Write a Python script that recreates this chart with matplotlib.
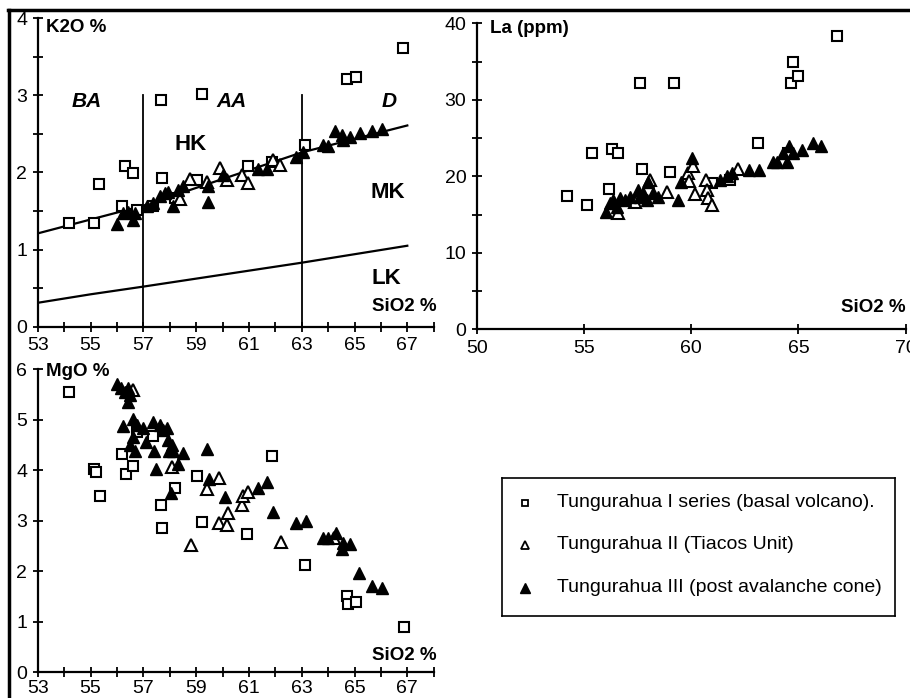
import matplotlib
matplotlib.use("Agg")
import matplotlib.pyplot as plt
from matplotlib.lines import Line2D

plt.rcParams['font.family'] = ['Liberation Sans', 'DejaVu Sans']

# ---- K2O vs SiO2 ----
k2o_sq_si = [54.2, 55.14, 55.33, 56.2, 56.3, 56.6, 56.75, 57.38, 57.66, 57.71, 58.2, 59.02, 59.23, 60.95, 61.86, 63.12, 64.7, 65.05, 66.85]
k2o_sq = [1.35, 1.34, 1.85, 1.57, 2.09, 1.99, 1.51, 1.57, 2.94, 1.93, 1.67, 1.90, 3.02, 2.08, 2.13, 2.36, 3.21, 3.24, 3.62]
k2o_op_si = [58.39, 58.77, 59.4, 59.9, 60.16, 60.73, 60.98, 61.9, 62.18]
k2o_op = [1.65, 1.92, 1.88, 2.06, 1.90, 1.97, 1.87, 2.16, 2.10]
k2o_fl_si = [55.99, 56.24, 56.6, 56.69, 56.43, 57.13, 57.38, 57.63, 57.82, 57.95, 58.14, 58.33, 58.52, 59.46, 59.46,
             60.03, 61.36, 61.67, 62.79, 63.06, 63.8, 64.0, 64.26, 64.52, 64.58, 64.83, 65.2, 65.67, 66.03]
k2o_fl = [1.33, 1.47, 1.38, 1.47, 1.49, 1.56, 1.60, 1.69, 1.73, 1.75, 1.56, 1.77, 1.82, 1.82, 1.62,
          1.97, 2.05, 2.05, 2.20, 2.27, 2.36, 2.34, 2.54, 2.49, 2.42, 2.46, 2.51, 2.54, 2.57]

# series boundaries (HK/MK and MK/LK)
hk_si = [53, 57, 63, 67]
hk_k2o = [1.21, 1.57, 2.26, 2.61]
lk_si = [53, 55, 57, 63, 67]
lk_k2o = [0.31, 0.42, 0.52, 0.83, 1.05]
div_si = [57, 63]

# ---- La vs SiO2 ----
la_sq_si = [54.2, 55.13, 55.36, 56.19, 56.29, 56.6, 57.61, 57.69, 59.2, 59.01, 60.96, 61.81, 63.1, 64.53, 64.64, 64.73, 65.0, 66.81]
la_sq = [17.4, 16.2, 23.1, 18.3, 23.6, 23.1, 32.2, 21.0, 32.2, 20.6, 19.1, 19.5, 24.4, 23.0, 32.2, 35.0, 33.1, 38.4]
la_op_si = [56.57, 57.38, 58.08, 58.86, 59.87, 59.91, 60.1, 60.18, 60.68, 60.72, 60.77, 60.96, 62.2]
la_op = [15.2, 16.7, 19.5, 17.9, 20.4, 19.4, 21.4, 17.7, 19.5, 18.2, 17.1, 16.3, 20.9]
la_fl_si = [56.03, 56.22, 56.37, 56.53, 56.68, 56.92, 57.15, 57.54, 57.61, 57.77, 57.93, 58.0, 58.24, 58.47, 59.4,
            59.51, 60.05, 61.34, 61.66, 61.89, 62.71, 63.18, 63.83, 63.99, 64.3, 64.45, 64.58, 64.76, 65.15, 65.66, 66.04]
la_fl = [15.3, 16.5, 16.9, 16.0, 17.1, 16.9, 17.3, 18.2, 17.3, 17.8, 16.9, 19.3, 17.8, 17.3, 16.9,
         19.2, 22.4, 19.5, 20.0, 20.4, 20.8, 20.8, 21.9, 21.9, 23.0, 21.9, 24.0, 23.0, 23.4, 24.4, 24.0]

# ---- MgO vs SiO2 ----
mgo_sq_si = [54.19, 55.15, 55.2, 55.36, 56.21, 56.33, 56.6, 56.75, 57.38, 57.66, 57.71, 58.19, 59.05, 59.24, 60.94,
             61.86, 63.14, 64.7, 64.74, 65.06, 66.88]
mgo_sq = [5.55, 4.02, 3.97, 3.49, 4.31, 3.92, 4.09, 4.75, 4.68, 3.31, 2.85, 3.65, 3.89, 2.98, 2.73,
          4.28, 2.12, 1.50, 1.35, 1.40, 0.90]
mgo_op_si = [56.62, 58.08, 58.8, 59.4, 59.88, 59.87, 60.16, 60.2, 60.73, 60.79, 60.98, 62.2, 64.24]
mgo_op = [5.59, 4.07, 2.52, 3.63, 3.85, 2.95, 2.91, 3.15, 3.31, 3.49, 3.57, 2.57, 2.66]
mgo_fl_si = [55.99, 56.14, 56.31, 56.43, 56.5, 56.43, 56.24, 56.6, 56.62, 56.5, 56.69, 56.75, 57.0, 57.09, 57.36,
             57.41, 57.47, 57.63, 57.76, 57.91, 57.95, 57.99, 58.08, 58.11, 58.04, 58.33, 58.52, 59.43, 59.5, 60.1,
             61.36, 61.67, 61.9, 62.79, 63.16, 63.82, 64.01, 64.29, 64.52, 64.58, 64.83, 65.18, 65.68, 66.06]
mgo_fl = [5.70, 5.62, 5.55, 5.62, 5.49, 5.34, 4.88, 5.02, 4.66, 4.50, 4.37, 4.89, 4.84, 4.55, 4.96,
          4.38, 4.02, 4.89, 4.79, 4.83, 4.60, 4.37, 4.50, 4.37, 3.54, 4.13, 4.33, 4.41, 3.82, 3.46,
          3.64, 3.76, 3.18, 2.95, 2.99, 2.65, 2.65, 2.76, 2.44, 2.55, 2.53, 1.97, 1.71, 1.67]

legend_labels = ["Tungurahua I series (basal volcano).",
                 "Tungurahua II (Tiacos Unit)",
                 "Tungurahua III (post avalanche cone)"]

W, H = 910, 698
fig = plt.figure(figsize=(W / 100, H / 100), dpi=100)


def px_axes(x0, x1, y0, y1):
    # x0,x1 left/right pixel, y0 bottom pixel, y1 top pixel (from image top)
    return fig.add_axes([x0 / W, (H - y0) / H, (x1 - x0) / W, (y0 - y1) / H])


def style(ax):
    for s in ["top", "right"]:
        ax.spines[s].set_visible(False)
    for s in ["left", "bottom"]:
        ax.spines[s].set_linewidth(1.6)
    ax.tick_params(direction="inout", length=7, width=1.3, labelsize=14)


def draw_points(ax, sq_x, sq_y, op_x, op_y, fl_x, fl_y):
    ax.plot(sq_x, sq_y, "s", mfc="white", mec="black", mew=1.5, ms=6.5, ls="none", clip_on=False, zorder=3)
    ax.plot(op_x, op_y, "^", mfc="white", mec="black", mew=1.5, ms=8, ls="none", clip_on=False, zorder=3)
    ax.plot(fl_x, fl_y, "^", mfc="black", mec="black", mew=1, ms=8.5, ls="none", clip_on=False, zorder=4)


odd_lab = [str(v) if v % 2 == 1 and v < 68 else "" for v in range(53, 69)]

# K2O panel
ax1 = px_axes(37.7, 433.7, 326.7, 18.3)
style(ax1)
ax1.set_xlim(53, 68)
ax1.set_ylim(0, 4)
ax1.set_xticks(range(53, 69))
ax1.set_xticklabels(odd_lab)
ax1.set_yticks([i * 0.5 for i in range(9)])
ax1.set_yticklabels([str(int(v)) if v == int(v) else "" for v in [i * 0.5 for i in range(9)]])
ax1.tick_params(axis="x", pad=4)
ax1.tick_params(axis="y", pad=4)
ax1.plot(hk_si, hk_k2o, color="black", lw=1.6)
ax1.plot(lk_si, lk_k2o, color="black", lw=1.6)
for xv in div_si:
    ax1.plot([xv, xv], [0, 3.0], color="black", lw=1.3)
draw_points(ax1, k2o_sq_si, k2o_sq, k2o_op_si, k2o_op, k2o_fl_si, k2o_fl)
ax1.text(53.3, 3.88, "K2O %", fontsize=13.5, fontweight="bold", va="center")
ax1.text(68.1, 0.26, "SiO2 %", fontsize=13.5, fontweight="bold", ha="right", va="center")
for lab, xx in [("BA", 54.85), ("AA", 60.35), ("D", 66.3)]:
    ax1.text(xx, 2.92, lab, fontsize=15, fontweight="bold", fontstyle="italic", ha="center", va="center")
ax1.text(58.8, 2.36, "HK", fontsize=16, fontweight="bold", ha="center", va="center")
ax1.text(66.28, 1.74, "MK", fontsize=16, fontweight="bold", ha="center", va="center")
ax1.text(66.2, 0.63, "LK", fontsize=16, fontweight="bold", ha="center", va="center")

# La panel
ax2 = px_axes(476.7, 905.7, 329.3, 23.3)
style(ax2)
ax2.set_xlim(50, 70)
ax2.set_ylim(0, 40)
ax2.set_xticks([50, 55, 60, 65, 70])
ax2.set_yticks(range(0, 41, 5))
ax2.set_yticklabels([str(v) if v % 10 == 0 else "" for v in range(0, 41, 5)])
ax2.tick_params(axis="x", pad=4)
ax2.tick_params(axis="y", pad=4)
draw_points(ax2, la_sq_si, la_sq, la_op_si, la_op, la_fl_si, la_fl)
ax2.text(50.6, 39.3, "La (ppm)", fontsize=13.5, fontweight="bold", va="center")
ax2.text(70.0, 2.8, "SiO2 %", fontsize=13.5, fontweight="bold", ha="right", va="center")

# MgO panel
ax3 = px_axes(37.7, 433.7, 672.3, 369.0)
style(ax3)
ax3.set_xlim(53, 68)
ax3.set_ylim(0, 6)
ax3.set_xticks(range(53, 69))
ax3.set_xticklabels(odd_lab)
ax3.set_yticks(range(0, 7))
ax3.tick_params(axis="x", pad=2)
ax3.tick_params(axis="y", pad=4)
draw_points(ax3, mgo_sq_si, mgo_sq, mgo_op_si, mgo_op, mgo_fl_si, mgo_fl)
ax3.text(53.3, 5.95, "MgO %", fontsize=13.5, fontweight="bold", va="center")
ax3.text(68.1, 0.34, "SiO2 %", fontsize=13.5, fontweight="bold", ha="right", va="center")

# legend box
axl = px_axes(502, 895, 616, 478)
axl.set_xlim(0, 1)
axl.set_ylim(0, 1)
axl.set_xticks([])
axl.set_yticks([])
for s in axl.spines.values():
    s.set_linewidth(1.2)
rows = [0.82, 0.515, 0.205]
axl.plot([0.058], [rows[0]], "s", mfc="white", mec="black", mew=1.3, ms=5)
axl.plot([0.058], [rows[1]], "^", mfc="white", mec="black", mew=1.3, ms=6)
axl.plot([0.058], [rows[2]], "^", mfc="black", mec="black", ms=7)
for r, lab in zip(rows, legend_labels):
    axl.text(0.14, r, lab, fontsize=14, va="center")

# outer frame lines
fig.add_artist(Line2D([8 / W, 1], [1 - 10 / H, 1 - 10 / H], color="black", lw=2.5, transform=fig.transFigure))
fig.add_artist(Line2D([9 / W, 9 / W], [0, 1 - 10 / H], color="black", lw=2.5, transform=fig.transFigure))

fig.savefig("out.png", dpi=100)
